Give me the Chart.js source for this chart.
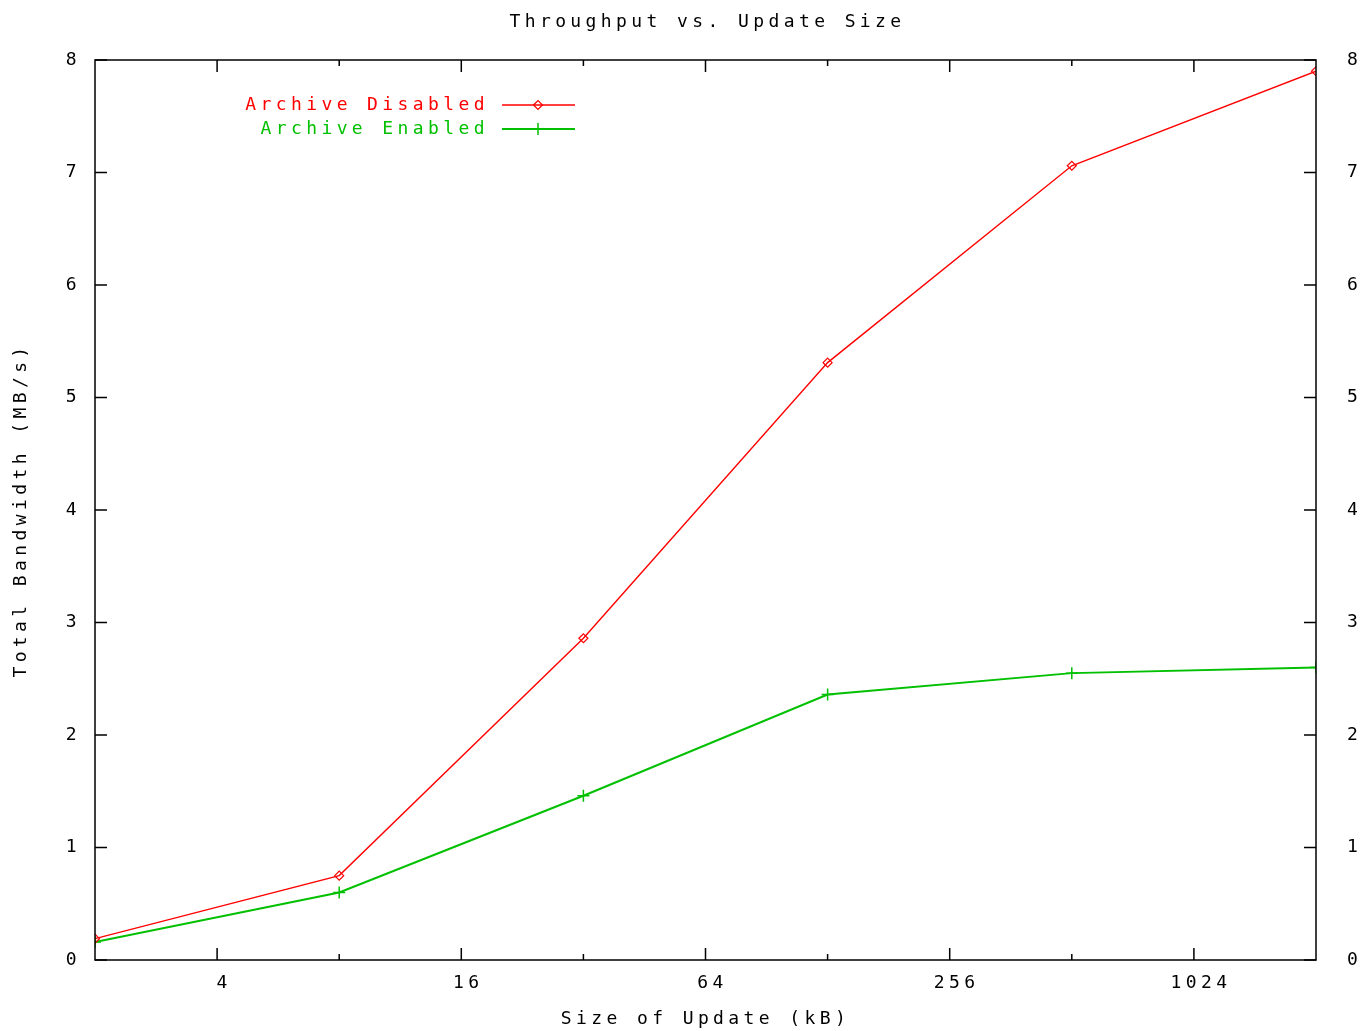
<!DOCTYPE html>
<html>
<head>
<meta charset="utf-8">
<script src="https://cdn.jsdelivr.net/npm/chart.js@4.4.1/dist/chart.umd.min.js"></script>
<style>
  body { margin: 0; background: #fff; }
  #wrap { width: 1366px; height: 1031px; }
</style>
</head>
<body>
<div id="wrap"><canvas id="myChart"></canvas></div>
<script>
// data
const sizes = [2, 8, 32, 128, 512, 2048];
const archiveDisabled = [0.19, 0.75, 2.86, 5.31, 7.06, 7.9];
const archiveEnabled = [0.16, 0.6, 1.46, 2.36, 2.55, 2.6];
const xTicks = [4, 16, 64, 256, 1024];
const xMinorTicks = [8, 32, 128, 512];
const yTicks = [0, 1, 2, 3, 4, 5, 6, 7, 8];
const chartTitle = 'Throughput vs. Update Size';

const FONT = { family: 'DejaVu Sans Mono', size: 18, weight: 'normal' };
const SPACING = '4.4px';
Chart.defaults.color = '#000';

// gnuplot text is wide, so add letter spacing to every text draw
const spacingPlugin = {
    id: 'spacing',
    beforeLayout(chart) { chart.ctx.letterSpacing = SPACING; },
    beforeDraw(chart) { chart.ctx.letterSpacing = SPACING; }
};

// title centred over the plot area, like gnuplot does
const titlePlugin = {
    id: 'plotTitle',
    afterDraw(chart) {
        const ctx = chart.ctx;
        const a = chart.chartArea;
        ctx.save();
        ctx.letterSpacing = SPACING;
        ctx.font = FONT.size + 'px ' + FONT.family;
        ctx.fillStyle = '#000';
        ctx.textAlign = 'center';
        ctx.textBaseline = 'middle';
        ctx.fillText(chartTitle, (a.left + a.right) / 2 + 2, 22);
        ctx.restore();
    }
};

// frame + inward ticks on all four sides
const framePlugin = {
    id: 'frame',
    afterDraw(chart) {
        const ctx = chart.ctx;
        const a = chart.chartArea;
        const x = chart.scales.x, y = chart.scales.y;
        ctx.save();
        ctx.strokeStyle = '#000';
        ctx.lineWidth = 1.5;
        ctx.strokeRect(a.left, a.top, a.right - a.left, a.bottom - a.top);
        ctx.beginPath();
        yTicks.forEach(v => {
            const py = y.getPixelForValue(v);
            ctx.moveTo(a.left, py); ctx.lineTo(a.left + 12, py);
            ctx.moveTo(a.right, py); ctx.lineTo(a.right - 12, py);
        });
        xTicks.forEach(v => {
            const px = x.getPixelForValue(v);
            ctx.moveTo(px, a.bottom); ctx.lineTo(px, a.bottom - 12);
            ctx.moveTo(px, a.top); ctx.lineTo(px, a.top + 12);
        });
        xMinorTicks.forEach(v => {
            const px = x.getPixelForValue(v);
            ctx.moveTo(px, a.bottom); ctx.lineTo(px, a.bottom - 6);
            ctx.moveTo(px, a.top); ctx.lineTo(px, a.top + 6);
        });
        ctx.stroke();
        ctx.restore();
    }
};

// legend inside plot, text right aligned then a line sample with marker
const keyPlugin = {
    id: 'key',
    afterDatasetsDraw(chart) {
        const ctx = chart.ctx;
        ctx.save();
        ctx.letterSpacing = SPACING;
        ctx.font = FONT.size + 'px ' + FONT.family;
        ctx.textAlign = 'right';
        ctx.textBaseline = 'middle';
        chart.data.datasets.forEach((ds, i) => {
            const ly = 105 + 24 * i;
            ctx.fillStyle = ds.borderColor;
            ctx.fillText(ds.label, 489, ly);
            ctx.strokeStyle = ds.borderColor;
            ctx.lineWidth = ds.borderWidth;
            ctx.beginPath();
            ctx.moveTo(502, ly); ctx.lineTo(575, ly);
            ctx.stroke();
            ctx.fillStyle = 'rgba(0,0,0,0)';
            ctx.lineWidth = ds.pointBorderWidth;
            Chart.helpers.drawPoint(ctx, {
                pointStyle: ds.pointStyle, radius: ds.pointRadius,
                rotation: 0, borderWidth: ds.pointBorderWidth
            }, 538, ly);
        });
        ctx.restore();
    }
};

const ctx = document.getElementById('myChart').getContext('2d');
const myChart = new Chart(ctx, {
    type: 'line',
    data: {
        datasets: [{
            label: 'Archive Disabled',
            data: sizes.map((s, i) => ({ x: s, y: archiveDisabled[i] })),
            borderColor: '#ff0000',
            backgroundColor: '#ff0000',
            borderWidth: 1.4,
            pointStyle: 'rectRot',
            pointRadius: 4.5,
            pointBorderWidth: 1.2,
            pointBackgroundColor: 'rgba(0,0,0,0)',
            tension: 0
        }, {
            label: 'Archive Enabled',
            data: sizes.map((s, i) => ({ x: s, y: archiveEnabled[i] })),
            borderColor: '#00c000',
            backgroundColor: '#00c000',
            borderWidth: 2,
            pointStyle: 'cross',
            pointRadius: 6,
            pointBorderWidth: 1.5,
            tension: 0
        }]
    },
    options: {
        responsive: true,
        maintainAspectRatio: false,
        animation: false,
        layout: { padding: { top: 60 } },
        plugins: {
            legend: { display: false },
            tooltip: { enabled: false },
            title: { display: false }
        },
        scales: {
            x: {
                type: 'logarithmic',
                min: 2,
                max: 2048,
                grid: { display: false, drawTicks: false },
                border: { display: false },
                afterBuildTicks: s => { s.ticks = xTicks.map(v => ({ value: v })); },
                afterFit: s => { s.height = 71; },
                ticks: {
                    font: FONT,
                    padding: 13,
                    labelOffset: 7,
                    maxRotation: 0,
                    callback: v => String(v)
                },
                title: {
                    display: true,
                    text: 'Size of Update (kB)',
                    font: FONT,
                    padding: { top: 0, bottom: 1 }
                }
            },
            y: {
                position: 'left',
                min: 0,
                max: 8,
                grid: { display: false, drawTicks: false },
                border: { display: false },
                afterBuildTicks: s => { s.ticks = yTicks.map(v => ({ value: v })); },
                afterFit: s => { s.width = 95; },
                ticks: { font: FONT, padding: 14 },
                title: {
                    display: true,
                    text: 'Total Bandwidth (MB/s)',
                    font: FONT,
                    padding: { top: 11, bottom: 0 }
                }
            },
            y2: {
                position: 'right',
                min: 0,
                max: 8,
                grid: { display: false, drawTicks: false },
                border: { display: false },
                afterBuildTicks: s => { s.ticks = yTicks.map(v => ({ value: v })); },
                afterFit: s => { s.width = 50; },
                ticks: { font: FONT, padding: 31 }
            }
        }
    },
    plugins: [spacingPlugin, framePlugin, keyPlugin, titlePlugin]
});
</script>
</body>
</html>
